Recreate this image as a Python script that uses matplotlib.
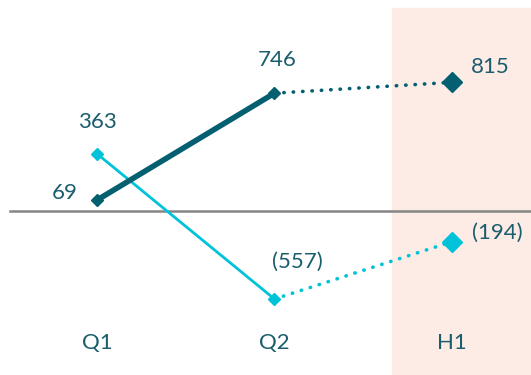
import matplotlib.pyplot as plt
from matplotlib.transforms import blended_transform_factory

# data
periods = ['Q1', 'Q2', 'H1']
dark_vals = [69, 746, 815]
light_vals = [363, -557, -194]
dark_labels = ['69', '746', '815']
light_labels = ['363', '(557)', '(194)']

DARK = '#045f70'
LIGHT = '#00c3d9'
TEXT = '#1a5d6c'

plt.rcParams['font.family'] = ['Lato', 'DejaVu Sans']

fig = plt.figure(figsize=(5.31, 3.75), dpi=100)
ax = fig.add_axes([0, 0, 1, 1])
ax.set_xlim(-0.546, 2.445)
ax.set_ylim(-1038, 1336)
ax.axis('off')

# forecast shading
ax.axvspan(1.662, 2.445, ymin=0, ymax=0.979, color='#fdebe6', zorder=0)
# zero line
ax.axhline(0, xmin=10 / 531, xmax=1, color='#858585', lw=1.8, zorder=1)

x = list(range(len(periods)))

# dark series
ax.plot(x[:2], dark_vals[:2], color=DARK, lw=4.0, solid_capstyle='butt', zorder=3)
ax.plot(x[1:], dark_vals[1:], color=DARK, lw=2.6, ls=(0, (0.1, 2.5)),
        dash_capstyle='round', zorder=3)
ax.plot(x[:2], dark_vals[:2], 'D', color=DARK, ms=6.5, zorder=4)
ax.plot(x[2:], dark_vals[2:], 'D', color=DARK, ms=10.5, zorder=4)

# light series
ax.plot(x[:2], light_vals[:2], color=LIGHT, lw=2.0, zorder=2)
ax.plot(x[1:], light_vals[1:], color=LIGHT, lw=2.6, ls=(0, (0.1, 2.5)),
        dash_capstyle='round', zorder=2)
ax.plot(x[:2], light_vals[:2], 'D', color=LIGHT, ms=6.5, zorder=4)
ax.plot(x[2:], light_vals[2:], 'D', color=LIGHT, ms=10.5, zorder=4)

# value labels (offsets in pixels)
dark_off = [(-32, 7), (3, 33), (38, 15)]
light_off = [(0, 32), (23, 37), (45, 9)]
for i in x:
    ax.annotate(dark_labels[i], (i, dark_vals[i]), xytext=dark_off[i],
                textcoords='offset pixels', ha='center', va='center',
                fontsize=16, color=TEXT)
    ax.annotate(light_labels[i], (i, light_vals[i]), xytext=light_off[i],
                textcoords='offset pixels', ha='center', va='center',
                fontsize=16, color=TEXT)

# category labels
trans = blended_transform_factory(ax.transData, ax.transAxes)
for i, p in enumerate(periods):
    ax.text(i, 0.085, p, transform=trans, ha='center', va='center',
            fontsize=16, color=TEXT)

fig.savefig('out.png', dpi=100)
